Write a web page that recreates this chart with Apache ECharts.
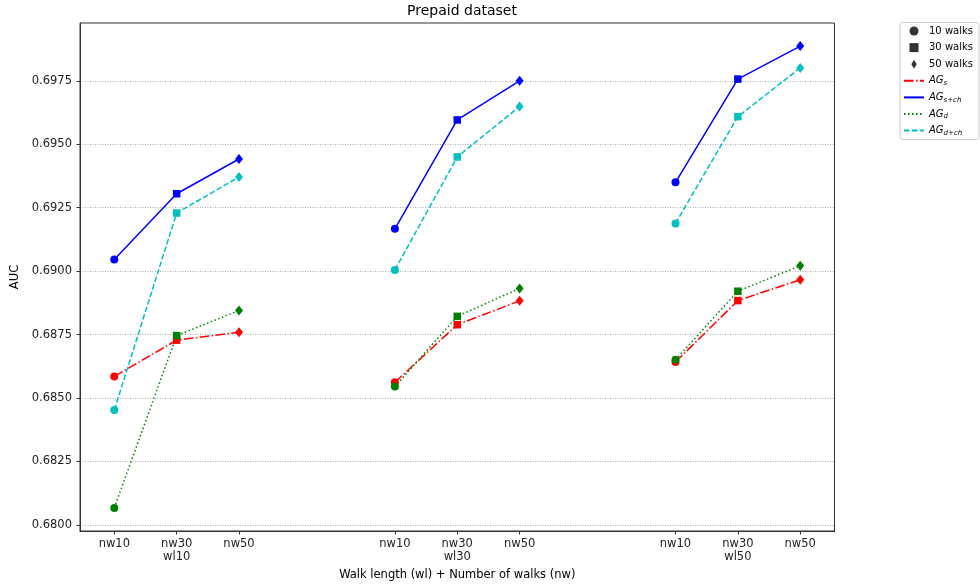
<!DOCTYPE html>
<html>
<head>
<meta charset="utf-8">
<script src="https://cdn.jsdelivr.net/npm/echarts@6/dist/echarts.min.js"></script>
<style>html,body{margin:0;padding:0;background:#fff}#c{width:980px;height:588px}</style>
</head>
<body>
<div id="c"></div>
<script>
// ---- data ----
const positions = [0, 1, 2, 4.5, 5.5, 6.5, 9, 10, 11];
const tickLabels = ['nw10', 'nw30\nwl10', 'nw50', 'nw10', 'nw30\nwl30', 'nw50', 'nw10', 'nw30\nwl50', 'nw50'];
const yTicks = [0.6800, 0.6825, 0.6850, 0.6875, 0.6900, 0.6925, 0.6950, 0.6975];
const walkNames = ['10 walks', '30 walks', '50 walks'];
const agS   = [0.68585, 0.68728, 0.68759, 0.68562, 0.68789, 0.68883, 0.68642, 0.68884, 0.68966];
const agSch = [0.69046, 0.69305, 0.69442, 0.69167, 0.69596, 0.69750, 0.69350, 0.69757, 0.69887];
const agD   = [0.68067, 0.68746, 0.68845, 0.68545, 0.68822, 0.68932, 0.68651, 0.68921, 0.69021];
const agDch = [0.68453, 0.69229, 0.69371, 0.69005, 0.69450, 0.69649, 0.69188, 0.69609, 0.69801];

// ---- styling ----
const FONT = 'DejaVu Sans';
const diamond = 'path://M0,-1 L0.6,0 L0,1 L-0.6,0 Z';
const squarePath = 'path://M0,0 L1,0 L1,1 L0,1 Z';
const walkSymbols = ['circle', 'rect', diamond];
const walkSizes = [8, 7.5, [8, 10]];
const legendWalkIcons = ['circle', squarePath, diamond];
const methods = [
  {key: 'AGs',   vals: agS,   color: '#ff0000', dash: [9.6, 2.4, 1.5, 2.4]},
  {key: 'AGsch', vals: agSch, color: '#0000ff', dash: 'solid'},
  {key: 'AGd',   vals: agD,   color: '#008000', dash: [1.5, 2.5]},
  {key: 'AGdch', vals: agDch, color: '#00bfbf', dash: [5.5, 2.4]}
];

const series = [];
methods.forEach(function (m) {
  for (let g = 0; g < 3; g++) {
    const data = [];
    for (let i = 0; i < 3; i++) {
      const k = g * 3 + i;
      data.push({value: [positions[k], m.vals[k]], symbol: walkSymbols[i], symbolSize: walkSizes[i]});
    }
    series.push({
      type: 'line', name: m.key + '_' + g, data: data,
      showSymbol: true, symbol: 'circle', symbolKeepAspect: false,
      lineStyle: {color: m.color, width: 1.5, type: m.dash},
      itemStyle: {color: m.color, borderWidth: 0},
      emphasis: {disabled: true}, animation: false, z: 2
    });
  }
});
// legend-only series
walkNames.forEach(function (n, i) {
  series.push({type: 'scatter', name: n, data: [], symbol: walkSymbols[i], itemStyle: {color: '#000'}});
});
methods.forEach(function (m) {
  series.push({type: 'line', name: m.key, data: [], symbol: 'none',
    lineStyle: {color: m.color, width: 1.5, type: m.dash}, itemStyle: {color: m.color, opacity: 0}});
});

const legendText = {
  '10 walks': '{n|10 walks}', '30 walks': '{n|30 walks}', '50 walks': '{n|50 walks}',
  'AGs': '{i|AG}{s|s}', 'AGsch': '{i|AG}{s|s+ch}', 'AGd': '{i|AG}{s|d}', 'AGdch': '{i|AG}{s|d+ch}'
};
const legendData = walkNames.map(function (n, i) { return {name: n, icon: legendWalkIcons[i]}; })
  .concat(methods.map(function (m) { return {name: m.key}; }));

const chart = echarts.init(document.getElementById('c'), null, {renderer: 'canvas'});
chart.setOption({
  animation: false,
  backgroundColor: '#fff',
  textStyle: {fontFamily: FONT},
  title: {
    text: 'Prepaid dataset', left: 457, top: -1, textAlign: 'center',
    textStyle: {fontFamily: FONT, fontSize: 14, fontWeight: 'normal', color: '#000'}
  },
  legend: {
    orient: 'vertical', left: 900, top: 22.5, padding: [2.5, 6, 3, 3],
    itemGap: 4.6, itemWidth: 20, itemHeight: 9,
    backgroundColor: '#fff', borderColor: '#ccc', borderWidth: 1, borderRadius: 3,
    selectedMode: false,
    data: legendData,
    formatter: function (n) { return legendText[n]; },
    textStyle: {
      fontFamily: FONT, fontSize: 10, color: '#000', lineHeight: 12,
      rich: {
        n: {fontFamily: FONT, fontSize: 10, color: '#000', lineHeight: 12},
        i: {fontFamily: FONT, fontSize: 10, fontStyle: 'italic', color: '#000', lineHeight: 12},
        s: {fontFamily: FONT, fontSize: 7, fontStyle: 'italic', color: '#000', lineHeight: 6, verticalAlign: 'bottom'}
      }
    }
  },
  grid: {
    left: 80, right: 145.5, top: 23, bottom: 57,
    show: true, borderColor: '#333', borderWidth: 1, backgroundColor: 'transparent'
  },
  xAxis: {
    type: 'value', min: -0.55, max: 11.55,
    name: 'Walk length (wl) + Number of walks (nw)', nameLocation: 'middle', nameGap: 38,
    nameTextStyle: {fontFamily: FONT, fontSize: 11.5, color: '#000'},
    axisLine: {show: true, onZero: false, lineStyle: {color: '#333', width: 1}},
    axisTick: {show: true, length: 3.5, inside: false, customValues: positions, lineStyle: {color: '#333'}},
    axisLabel: {
      customValues: positions, margin: 7, fontFamily: FONT, fontSize: 11.5, color: '#222', lineHeight: 13,
      formatter: function (v) { const k = positions.indexOf(v); return k >= 0 ? tickLabels[k] : ''; }
    },
    splitLine: {show: false}
  },
  yAxis: {
    type: 'value', min: 0.67976, max: 0.69978,
    name: 'AUC', nameLocation: 'middle', nameGap: 58, nameRotate: 90,
    nameTextStyle: {fontFamily: FONT, fontSize: 11.5, color: '#000'},
    axisLine: {show: true, onZero: false, lineStyle: {color: '#333', width: 1}},
    axisTick: {show: true, length: 3.5, customValues: yTicks, lineStyle: {color: '#333'}},
    axisLabel: {
      customValues: yTicks, margin: 8, fontFamily: FONT, fontSize: 11.5, color: '#222',
      formatter: function (v) { return v.toFixed(4); }
    },
    splitLine: {show: true, lineStyle: {color: '#999', width: 0.8, type: [1, 1.5]}}
  },
  series: series
});
</script>
</body>
</html>
